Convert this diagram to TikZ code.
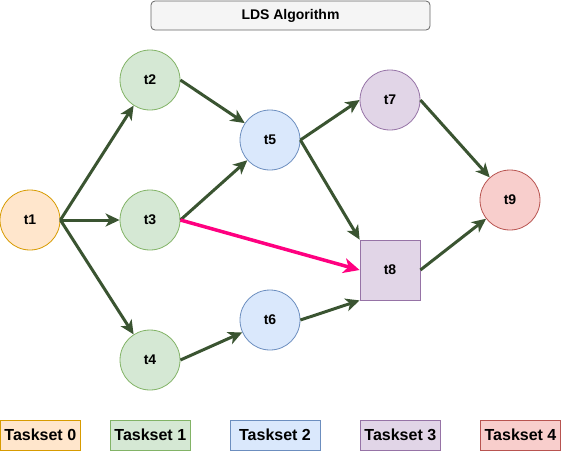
\documentclass[tikz,border=0pt]{standalone}
\usepackage{fontspec}
\setmainfont{Liberation Sans}
\usetikzlibrary{arrows.meta}
\definecolor{edgeg}{HTML}{3A5431}
\definecolor{pinkc}{HTML}{FF0080}
\definecolor{orF}{HTML}{FFE6CC}\definecolor{orD}{HTML}{D79B00}
\definecolor{grF}{HTML}{D5E8D4}\definecolor{grD}{HTML}{82B366}
\definecolor{blF}{HTML}{DAE8FC}\definecolor{blD}{HTML}{6C8EBF}
\definecolor{puF}{HTML}{E1D5E7}\definecolor{puD}{HTML}{9673A6}
\definecolor{reF}{HTML}{F8CECC}\definecolor{reD}{HTML}{B85450}
\tikzset{
  task/.style={circle, minimum size=60pt, inner sep=0pt, line width=0.8pt,
    font=\fontsize{14}{16}\selectfont\bfseries},
  sqtask/.style={rectangle, minimum size=60pt, inner sep=0pt, line width=0.8pt,
    font=\fontsize{14}{16}\selectfont\bfseries},
  legend/.style={rectangle, minimum height=30pt, inner sep=0pt, line width=0.8pt,
    font=\fontsize{16}{18}\selectfont\bfseries},
  c0/.style={fill=orF, draw=orD},
  c1/.style={fill=grF, draw=grD},
  c2/.style={fill=blF, draw=blD},
  c3/.style={fill=puF, draw=puD},
  c4/.style={fill=reF, draw=reD},
  edge/.style={draw=edgeg, line width=3pt, -{Stealth[length=14pt,width=13pt,inset=4pt]}},
  pedge/.style={draw=pinkc, line width=3.5pt, -{Stealth[length=16pt,width=15pt,inset=4.5pt]}},
}
\begin{document}
\begin{tikzpicture}[x=1pt,y=-1pt]
\useasboundingbox (0,0) rectangle (561,451);
\node[draw=black!60, fill=black!4, rounded corners=4pt, line width=0.8pt,
  minimum width=279pt, minimum height=29pt, inner sep=0pt,
  font=\fontsize{14}{16}\selectfont\bfseries] (title) at (290.5,15.5) {LDS Algorithm};
\node[task,c0] (t1) at (30,220) {t1};
\node[task,c1] (t2) at (150,80) {t2};
\node[task,c1] (t3) at (150,220) {t3};
\node[task,c1] (t4) at (150,360) {t4};
\node[task,c2] (t5) at (270,140) {t5};
\node[task,c2] (t6) at (270,320) {t6};
\node[task,c3] (t7) at (390,100) {t7};
\node[sqtask,c3] (t8) at (390,270) {t8};
\node[task,c4] (t9) at (510,200) {t9};
\draw[edge] (t1.east) -- (t2);
\draw[edge] (t1.east) -- (t3);
\draw[edge] (t1.east) -- (t4);
\draw[edge] (t2.east) -- (t5);
\draw[edge] (t3.east) -- (t5);
\draw[edge] (t4.east) -- (t6);
\draw[edge] (t5.east) -- (t7.west);
\draw[edge] (t5.east) -- (t8.north west);
\draw[edge] (t6.east) -- (t8.south west);
\draw[edge] (t7.east) -- (t9);
\draw[edge] (t8.east) -- (t9);
\draw[pedge] (t3.east) -- (t8.west);
\node[legend,c0,minimum width=80pt] (l0) at (40.3,435) {Taskset 0};
\node[legend,c1,minimum width=80pt] (l1) at (150.3,435) {Taskset 1};
\node[legend,c2,minimum width=90pt] (l2) at (275,435) {Taskset 2};
\node[legend,c3,minimum width=80pt] (l3) at (400.3,435) {Taskset 3};
\node[legend,c4,minimum width=80pt] (l4) at (520.5,435) {Taskset 4};
\end{tikzpicture}
\end{document}
